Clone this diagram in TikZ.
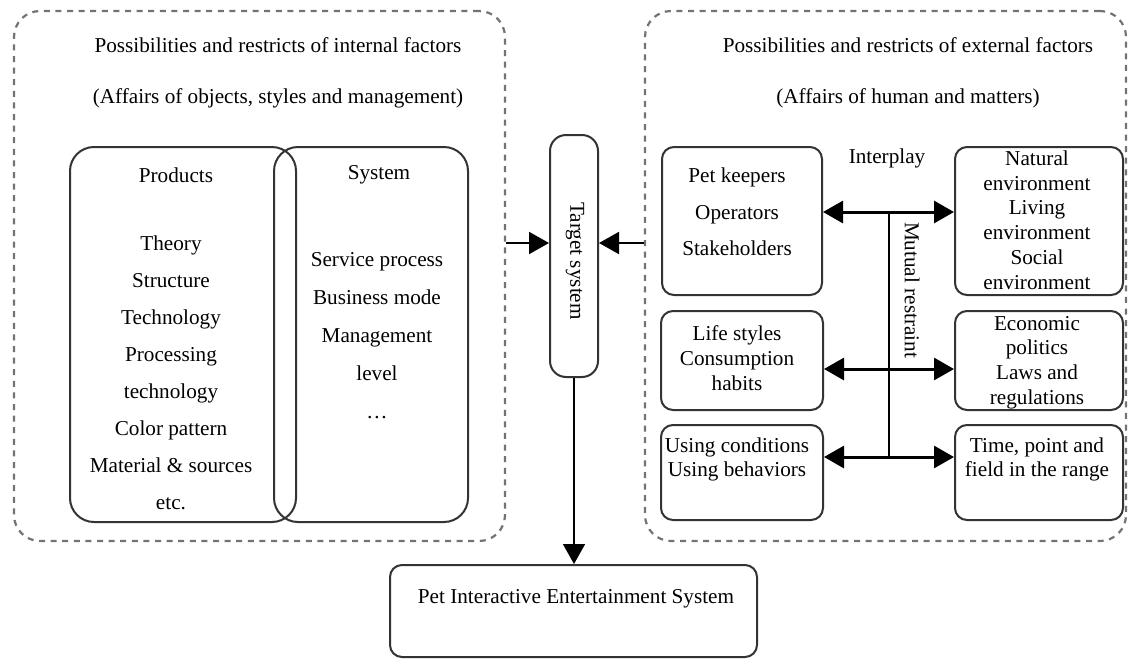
\documentclass[tikz,border=0pt]{standalone}
\usepackage{fontspec}
\setmainfont{Liberation Serif}
\usetikzlibrary{
    arrows.meta,
    positioning
}
\tikzset{
    every picture/.style = {
        > = {Triangle[length = 10pt, width = 11pt]},
        x = 0.5pt,
        y = -0.5pt
    },
    frame/.style = {
        draw = black!55,
        line width = 1.1pt,
        dash pattern = on 3pt off 2.8pt,
        rounded corners = 13pt
    },
    factor/.style = {
        draw = black!80,
        line width = 1pt,
        rounded corners = 12pt
    },
    item/.style = {
        draw = black!80,
        line width = 1pt,
        rounded corners = 6pt
    },
    tight/.style = {
        align = center,
        font = \fontsize{10.6}{12.4}\selectfont
    },
    link/.style = {
        <->,
        line width = 1.5pt
    }
}

\begin{document}
\begin{tikzpicture}[node font = {\fontsize{10.6}{18.5}\selectfont}]
    \useasboundingbox[fill = white] (0,0) rectangle (1129,659);

    % internal factors
    \node[frame, minimum width = 245.5pt, minimum height = 265pt] (inner) at (259.5,276) {};
    \node (innertitle) at (278,45) {Possibilities and restricts of internal factors};
    \node (inneraffairs) at (278,98) {(Affairs of objects, styles and management)};

    \node[factor, minimum width = 113pt, minimum height = 187.5pt] (products) at (183,334.5) {};
    \node[factor, minimum width = 97pt, minimum height = 187.5pt] (system) at (371,334.5) {};
    \node (productstitle) at (176,175) {Products};
    \node[align = center] (productslist) at (171,372.5) {Theory\\Structure\\Technology\\Processing\\technology\\Color pattern\\Material \& sources\\etc.};
    \node (systemtitle) at (379,175) {System};
    \node[align = center, font = \fontsize{10.6}{19}\selectfont] (systemlist) at (377,336) {Service process\\Business mode\\Management\\level\\…};

    % external factors
    \node[frame, minimum width = 240.5pt, minimum height = 265pt] (outer) at (885.5,276) {};
    \node (outertitle) at (908,45) {Possibilities and restricts of external factors};
    \node (outeraffairs) at (908,98) {(Affairs of human and matters)};

    \node[item, minimum width = 80pt, minimum height = 74pt] (keepers) at (742,221) {};
    \node[item, minimum width = 84pt, minimum height = 74pt] (nature) at (1039,221) {};
    \node[item, minimum width = 81pt, minimum height = 49.5pt] (life) at (742,360.5) {};
    \node[item, minimum width = 84pt, minimum height = 49.5pt] (economy) at (1039,360.5) {};
    \node[item, minimum width = 81pt, minimum height = 47.5pt] (usage) at (742,472.5) {};
    \node[item, minimum width = 84pt, minimum height = 47.5pt] (range) at (1039,472.5) {};

    \node[align = center, font = \fontsize{10.6}{18.25}\selectfont] (keeperstext) at (737,212) {Pet keepers\\Operators\\Stakeholders};
    \node[tight] (naturetext) at (1037,220) {Natural\\environment\\Living\\environment\\Social\\environment};
    \node[tight] (lifetext) at (737,358) {Life styles\\Consumption\\habits};
    \node[tight] (economytext) at (1037,362.5) {Economic\\politics\\Laws and\\regulations};
    \node[tight] (usagetext) at (737,459.5) {Using conditions\\Using behaviors};
    \node[tight] (rangetext) at (1037,459.5) {Time, point and\\field in the range};

    \node (interplay) at (887,158) {Interplay};
    \node[rotate = -90] (restraint) at (912,290) {Mutual restraint};

    \coordinate (j1) at (889,212);
    \coordinate (j2) at (889,369);
    \coordinate (j3) at (889,457);
    \draw[line width = 0.8pt] (j1) -- (j3);
    \draw[link] (keepers.east |- j1) -- (nature.west |- j1);
    \draw[link] (life.east |- j2) -- (economy.west |- j2);
    \draw[link] (usage.east |- j3) -- (range.west |- j3);

    % target and result
    \node[item, rounded corners = 8pt, minimum width = 24pt, minimum height = 121pt] (target) at (574,256) {};
    \node[rotate = -90] (targettext) at (575,261) {Target system};
    \node[item, minimum width = 183.5pt, minimum height = 46pt] (pies) at (573.5,611) {};
    \node (piestext) at (576,599) {Pet Interactive Entertainment System};

    \coordinate (tin) at (574,243);
    \draw[->, line width = 1pt] (inner.east |- tin) -- (target.west |- tin);
    \draw[->, line width = 1pt] (outer.west |- tin) -- (target.east |- tin);
    \draw[->, line width = 0.8pt] (target.south) -- (target.south |- pies.north);
\end{tikzpicture}
\end{document}
